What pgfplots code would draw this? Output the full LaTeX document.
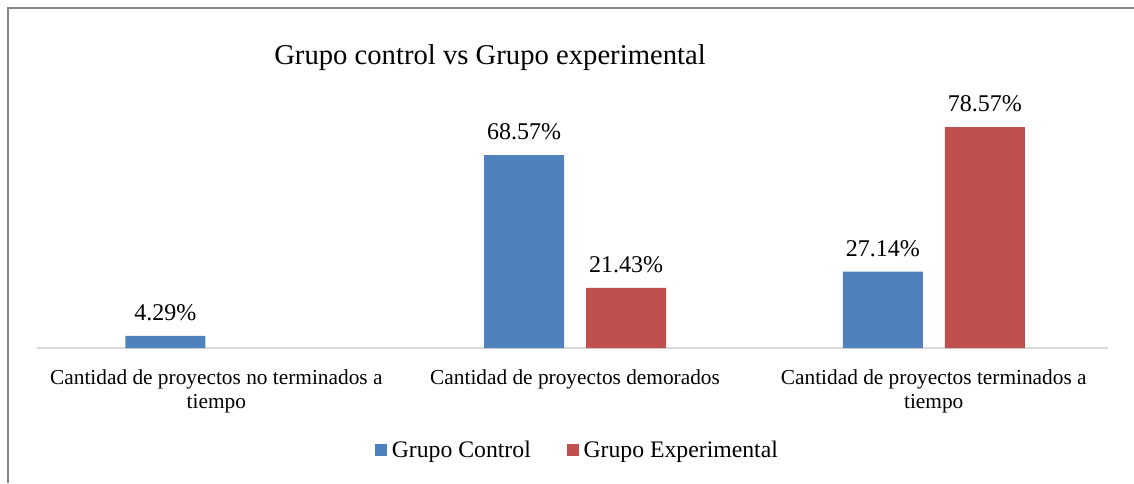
\documentclass[border=0pt]{standalone}
\usepackage{pgfplots}
\pgfplotsset{compat=1.18}
\usepackage{fontspec}
\setmainfont{Liberation Serif}
\definecolor{cblue}{HTML}{4F81BD}
\definecolor{cred}{HTML}{C0504D}
\definecolor{caxis}{HTML}{D9D9D9}
\definecolor{cframe}{HTML}{868686}
\begin{document}
\begin{tikzpicture}[x=1pt,y=1pt]
\useasboundingbox (0,0) rectangle (850.5,362.25);
\draw[cframe, line width=1.2pt] (6,0) -- (6,356.25) -- (850.5,356.25);
\begin{axis}[
  at={(27.75pt,101.25pt)}, anchor=south west,
  scale only axis, width=803.25pt, height=189.75pt,
  ymin=0, ymax=90, xmin=-0.5, xmax=2.4858,
  axis x line=bottom, hide y axis,
  x axis line style={-, draw=caxis, line width=1.2pt},
  xtick={0,1,2}, xtick style={draw=none},
  xticklabels={Cantidad de proyectos no terminados a\\tiempo, Cantidad de proyectos demorados, Cantidad de proyectos terminados a\\tiempo},
  xticklabel style={align=center, font=\fontsize{16}{18.5}\selectfont, anchor=north, yshift=-8.3pt},
  ybar, bar width=60pt, clip=false,
  point meta=explicit symbolic,
  nodes near coords,
  nodes near coords style={anchor=base, yshift=11.7pt, inner sep=0pt, font=\fontsize{18}{20}\selectfont, text=black},
  legend columns=2,
  legend style={at={(0.505,-0.403)}, anchor=center, draw=none, font=\fontsize{17.8}{20}\selectfont,
    /tikz/every even column/.append style={column sep=25pt},
    /tikz/every odd column/.append style={column sep=0pt}},
  legend image code/.code={\fill[#1] (0pt,-4.5pt) rectangle (9pt,4.5pt);},
]
\addplot[fill=cblue, draw=none, bar shift=-38.25pt] coordinates {(0,4.29) [4.29\%] (1,68.57) [68.57\%] (2,27.14) [27.14\%]};
\addlegendentry{\hspace{1.5pt}Grupo Control}
\addplot[fill=cred, draw=none, bar shift=38.25pt] coordinates {(1,21.43) [21.43\%] (2,78.57) [78.57\%]};
\addlegendentry{\hspace{1.5pt}Grupo Experimental}
\end{axis}
\node at (367.5,319) {\fontsize{21.5}{26}\selectfont Grupo control vs Grupo experimental};
\end{tikzpicture}
\end{document}
